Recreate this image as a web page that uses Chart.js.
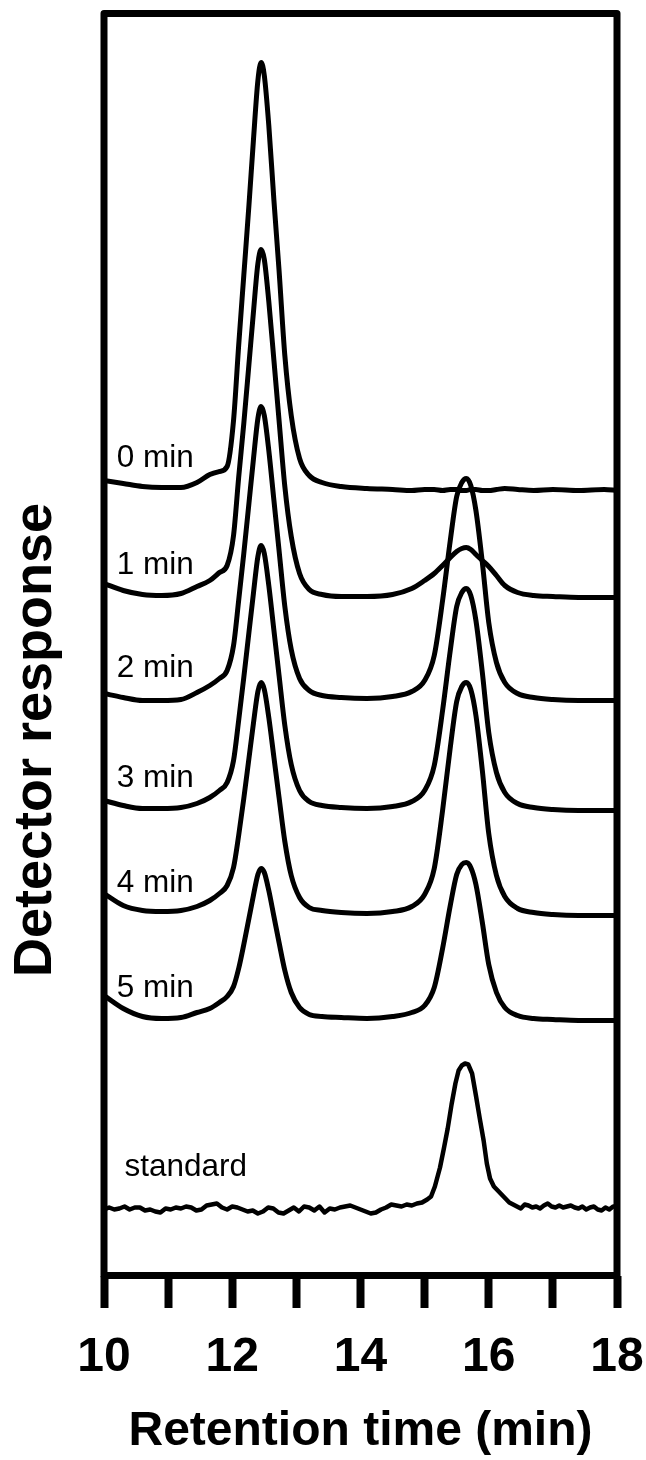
<!DOCTYPE html>
<html>
<head>
<meta charset="utf-8">
<script src="https://cdn.jsdelivr.net/npm/chart.js@4.4.1/dist/chart.umd.min.js"></script>
<style>
  html, body { margin: 0; padding: 0; background: #fff; }
  #wrap { width: 646px; height: 1460px; position: relative; }
</style>
</head>
<body>
<div id="wrap"><canvas id="chart"></canvas></div>
<script>
/* -------- data -------- */
// retention time (min) grid used for the sample traces
const times = [10.0, 10.3, 10.6, 10.9, 11.2, 11.45, 11.65, 11.8, 11.92, 12.02, 12.1, 12.18, 12.26, 12.33, 12.4, 12.45,
  12.5, 12.57, 12.65, 12.73, 12.82, 12.92, 13.05, 13.2, 13.4, 13.7, 14.1, 14.5, 14.8, 15.0, 15.15, 15.28,
  15.4, 15.5, 15.58, 15.65, 15.72, 15.8, 15.9, 16.0, 16.12, 16.25, 16.45, 16.7, 17.0, 17.4, 17.8, 18.0];

// detector response above each trace's own baseline
const trace0min = [10, 7, 4, 3, 3, 8, 16, 19, 24, 70, 145, 215, 285, 350, 410, 428,
  415, 365, 290, 220, 135, 75, 32, 15, 8, 4, 2, 1, 0, 1, 1, 0,
  1, 1, 0, 0, 1, 1, 0, 0, 1, 2, 1, 0, 1, 0, 1, 0];
const trace1min = [14, 7, 3, 2, 4, 11, 17, 25, 32, 62, 120, 174, 233, 285, 334, 348,
  338, 296, 237, 177, 111, 61, 24, 8, 3, 1, 1, 3, 9, 17, 24, 32,
  40, 46, 49, 50, 48, 43, 37, 31, 22, 12, 5, 2, 1, 0, 0, 0];
const trace2min = [7, 3, 0, 0, 1, 8, 15, 22, 30, 55, 100, 147, 197, 241, 282, 294,
  285, 250, 200, 150, 94, 51, 22, 10, 5, 3, 2, 4, 9, 20, 45, 100,
  160, 204, 218, 222, 215, 190, 138, 78, 38, 18, 7, 3, 1, 0, 0, 0];
const trace3min = [10, 5, 2, 2, 3, 7, 13, 20, 28, 50, 90, 133, 178, 217, 254, 265,
  257, 225, 180, 135, 85, 46, 20, 9, 5, 3, 2, 4, 9, 20, 45, 100,
  160, 204, 218, 222, 215, 190, 138, 78, 38, 18, 7, 3, 1, 0, 0, 0];
const trace4min = [22, 10, 5, 4, 5, 9, 15, 22, 30, 48, 80, 117, 157, 192, 224, 233,
  226, 198, 158, 118, 74, 40, 18, 8, 5, 3, 2, 4, 9, 21, 47, 105,
  168, 214, 229, 233, 226, 200, 145, 82, 40, 19, 7, 3, 1, 0, 0, 0];
const trace5min = [25, 12, 4, 2, 3, 8, 12, 18, 24, 34, 52, 76, 102, 125, 146, 152,
  148, 130, 104, 78, 50, 28, 13, 6, 4, 3, 2, 4, 8, 15, 33, 72,
  115, 146, 156, 158, 153, 136, 98, 56, 28, 13, 5, 2, 1, 0, 0, 0];

const sampleTraces = [trace0min, trace1min, trace2min, trace3min, trace4min, trace5min];
const sampleLabels = ["0 min", "1 min", "2 min", "3 min", "4 min", "5 min"];
const sampleOffsets = [785, 678, 575, 465, 360, 255];   // vertical stacking

// standard trace (own, finer time grid)
const stdTimes = [10.00, 10.08, 10.16, 10.24, 10.32, 10.40, 10.48, 10.56, 10.64, 10.72, 10.80, 10.88, 10.96,
  11.04, 11.12, 11.20, 11.28, 11.36, 11.44, 11.52, 11.60, 11.68, 11.76, 11.84, 11.92, 12.00, 12.08,
  12.16, 12.24, 12.32, 12.40, 12.48, 12.56, 12.64, 12.72, 12.80, 12.88, 12.96, 13.04, 13.12, 13.20,
  13.28, 13.36, 13.44, 13.52, 13.60, 13.68, 13.76, 13.84, 13.92, 14.00, 14.08, 14.16, 14.24, 14.32,
  14.40, 14.48, 14.56, 14.64, 14.72, 14.80, 14.88, 14.96, 15.04, 15.10, 15.16, 15.24, 15.30, 15.36,
  15.42, 15.48, 15.53, 15.58, 15.63, 15.68, 15.74, 15.80, 15.86, 15.92, 15.97, 16.02, 16.08, 16.14,
  16.20, 16.26, 16.32, 16.38, 16.44, 16.50, 16.56, 16.62, 16.68, 16.74, 16.80, 16.86, 16.92, 16.98,
  17.04, 17.10, 17.16, 17.22, 17.28, 17.34, 17.40, 17.46, 17.52, 17.58, 17.64, 17.70, 17.76, 17.82,
  17.88, 17.94, 18.00];
const stdValues = [-1, 1, -1, 0, 2, -1, 1, 1, -2, -1, -3, -4, 0,
  -1, 1, 0, 2, 1, -2, -1, 3, 4, 5, 1, -1, 2, 1,
  -1, -3, -2, -5, -3, 1, 0, -4, -5, -2, 1, -3, 2, 1,
  -2, 2, -4, 0, -1, 1, 2, 3, 1, -1, -3, -5, -4, -1,
  1, 4, 3, 2, 4, 3, 5, 6, 9, 12, 22, 41, 60, 80,
  104, 125, 138, 143, 145, 144, 135, 113, 90, 68, 45, 30, 22, 18,
  14, 10, 6, 4, 2, 0, 4, 3, 1, 2, 0, 3, 5, 2,
  1, 3, 1, 2, 3, 1, 0, 2, -1, 1, 2, -1, -2, 1,
  -1, 2, 2];
const stdLabel = "standard";
const stdOffset = 67;

const xTicks = [10, 12, 14, 16, 18];

/* -------- chart -------- */
const FONT = '"Liberation Sans", Arial, Helvetica, sans-serif';

function toPoints(ts, vals, offset) {
  return ts.map((t, i) => ({ x: t, y: offset + vals[i] }));
}

const datasets = sampleTraces.map((vals, i) => ({
  label: sampleLabels[i],
  data: toPoints(times, vals, sampleOffsets[i]),
  borderColor: "#000",
  borderWidth: 5,
  pointRadius: 0,
  cubicInterpolationMode: "monotone",
  fill: false
}));
datasets.push({
  label: stdLabel,
  data: toPoints(stdTimes, stdValues, stdOffset),
  borderColor: "#000",
  borderWidth: 4.5,
  borderJoinStyle: "round",
  pointRadius: 0,
  tension: 0,
  fill: false
});

// frame, trace labels and the y title
const decorations = {
  id: "decorations",
  afterDatasetsDraw(chart) {
    const { ctx, chartArea: a, scales: { x, y } } = chart;
    ctx.save();
    ctx.lineWidth = 7;
    ctx.strokeStyle = "#000";
    ctx.lineJoin = "round";
    ctx.strokeRect(a.left, a.top, a.right - a.left, a.bottom - a.top);

    ctx.fillStyle = "#000";
    ctx.font = "31.5px " + FONT;
    ctx.textAlign = "left";
    ctx.textBaseline = "alphabetic";
    sampleLabels.forEach((txt, i) => {
      ctx.fillText(txt, x.getPixelForValue(10.2), y.getPixelForValue(sampleOffsets[i] + 24));
    });
    ctx.fillText(stdLabel, x.getPixelForValue(10.32), y.getPixelForValue(stdOffset + 33));

    ctx.translate(36, 740);
    ctx.rotate(-Math.PI / 2);
    ctx.font = "bold 54px " + FONT;
    ctx.textAlign = "center";
    ctx.textBaseline = "middle";
    ctx.fillText("Detector response", 0, 0);
    ctx.restore();
  }
};

new Chart(document.getElementById("chart"), {
  type: "line",
  data: { datasets },
  plugins: [decorations],
  options: {
    responsive: true,
    maintainAspectRatio: false,
    animation: false,
    layout: { padding: { left: 104, right: 29, top: 13.5, bottom: 0 } },
    plugins: { legend: { display: false }, tooltip: { enabled: false } },
    scales: {
      x: {
        type: "linear",
        min: 10,
        max: 18,
        afterFit: s => { s.height = 184.5; },
        border: { display: false },
        grid: { drawOnChartArea: false, drawTicks: true, tickLength: 32.5, tickWidth: 8, tickColor: "#000" },
        ticks: {
          stepSize: 1,
          autoSkip: false,
          maxRotation: 0,
          color: "#000",
          padding: 0,
          // tall line box pushes the labels down without widening the side padding
          font: { family: FONT, size: 48, weight: "bold", lineHeight: 2.0625 },
          callback: v => xTicks.includes(v) ? String(v) : ""
        },
        title: {
          display: true,
          text: "Retention time (min)",
          color: "#000",
          font: { family: FONT, size: 48, weight: "bold", lineHeight: 1 },
          padding: { top: 0, bottom: 4.5 }
        }
      },
      y: { type: "linear", display: false, min: 0, max: 1262 }
    }
  }
});
</script>
</body>
</html>
